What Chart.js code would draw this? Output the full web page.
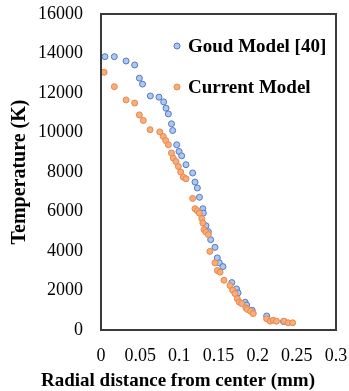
<!DOCTYPE html>
<html>
<head>
<meta charset="utf-8">
<script src="https://cdn.jsdelivr.net/npm/chart.js@4.4.1/dist/chart.umd.min.js"></script>
<style>
  body { margin: 0; background: #fff; }
  #caja { width: 349px; height: 391px; }
</style>
</head>
<body>
<div id="caja"><canvas id="scatter" width="349" height="391"></canvas></div>
<script>
const grafica = document.getElementById("scatter");

// Goud Model [40]
const goudX = [
  0.005, 0.017, 0.032, 0.043, 0.049, 0.053, 0.063, 0.074, 0.080, 0.083,
  0.086, 0.090, 0.0915, 0.0966, 0.0996, 0.103, 0.1085, 0.117, 0.120, 0.123,
  0.1257, 0.130, 0.1306, 0.134, 0.137, 0.140, 0.1455, 0.1485, 0.151, 0.1557,
  0.167, 0.173, 0.175, 0.184, 0.186, 0.193, 0.2115, 0.233,
];
const goudT = [
  13840, 13840, 13620, 13420, 12750, 12450, 11850, 11790, 11550, 11230,
  10940, 10440, 10100, 9380, 9040, 8820, 8370, 7950, 7490, 7190,
  6720, 6140, 5920, 5280, 4980, 4575, 4185, 3650, 3400, 3210,
  2400, 2080, 1880, 1405, 1260, 1000, 710, 430,
];

// Current Model
const currentX = [
  0.004, 0.017, 0.032, 0.043, 0.049, 0.054, 0.0626, 0.075, 0.0795, 0.0826,
  0.086, 0.090, 0.0923, 0.0957, 0.0987, 0.1017, 0.105, 0.1085, 0.117, 0.120,
  0.123, 0.1255, 0.1286, 0.130, 0.1315, 0.134, 0.137, 0.139, 0.1455, 0.1485,
  0.152, 0.157, 0.1647, 0.168, 0.171, 0.174, 0.1766, 0.1796, 0.185, 0.187,
  0.191, 0.1944, 0.2115, 0.216, 0.220, 0.224, 0.2336, 0.239, 0.2447,
];
const currentT = [
  13050, 12320, 11650, 11490, 10890, 10610, 10140, 10030, 9800, 9590,
  9380, 8960, 8700, 8530, 8280, 8000, 7740, 7660, 6660, 6140,
  6040, 5920, 5640, 5420, 5080, 4960, 4830, 3980, 3400, 3010,
  2930, 2520, 2250, 2010, 1845, 1580, 1410, 1340, 1120, 1040,
  950, 830, 565, 445, 495, 445, 445, 365, 365,
];

// Etiquetas de los ejes
const xTickLabels = ["0", "0.05", "0.1", "0.15", "0.2", "0.25", "0.3"];
const yTickLabels = ["0", "2000", "4000", "6000", "8000", "10000", "12000", "14000", "16000"];
const seriesNames = ["Goud Model [40]", "Current Model"];
const xTitle = "Radial distance from center (mm)";
const yTitle = "Temperature (K)";

const toPoints = (xs, ys) => xs.map((x, i) => ({ x: x, y: ys[i] }));

const dataScatter = {
  datasets: [
    {
      label: seriesNames[0],
      data: toPoints(goudX, goudT),
      pointRadius: 3,
      pointBorderWidth: 1,
      backgroundColor: "#AFC6EE",
      borderColor: "#4E7ACB",
      order: 1,
    },
    {
      label: seriesNames[1],
      data: toPoints(currentX, currentT),
      pointRadius: 3,
      pointBorderWidth: 1,
      backgroundColor: "#F5AE7E",
      borderColor: "#EB8646",
      order: 0,
    },
  ],
};

// Marco del area, titulo del eje X (sin maxWidth) y leyenda dentro
const marcoLeyenda = {
  id: "marcoLeyenda",
  afterDraw(chart) {
    const { ctx, chartArea } = chart;
    ctx.save();
    ctx.strokeStyle = "#3a3a3a";
    ctx.lineWidth = 2;
    ctx.strokeRect(chartArea.left, chartArea.top, chartArea.width, chartArea.height);

    ctx.font = "bold 19px 'Liberation Serif'";
    ctx.textBaseline = "middle";
    ctx.fillStyle = "#000";
    ctx.textAlign = "center";
    ctx.fillText(xTitle, 178, chartArea.bottom + 51);

    ctx.textAlign = "left";
    [0, 1].forEach((i) => {
      const ds = chart.data.datasets[i];
      const x = chartArea.left + 76;
      const y = chartArea.top + 32 + i * 41;
      ctx.beginPath();
      ctx.arc(x, y, 3, 0, Math.PI * 2);
      ctx.fillStyle = ds.backgroundColor;
      ctx.fill();
      ctx.lineWidth = 1;
      ctx.strokeStyle = ds.borderColor;
      ctx.stroke();
      ctx.fillStyle = "#000";
      ctx.fillText(ds.label, x + 11, y + 1);
    });
    ctx.restore();
  },
};

const configScatter = {
  type: "scatter",
  data: dataScatter,
  options: {
    responsive: false,
    animation: false,
    layout: { padding: { top: 14, right: 13, left: 0, bottom: 0 } },
    scales: {
      x: {
        type: "linear",
        min: 0,
        max: 0.3,
        grid: { display: false, drawTicks: false },
        border: { display: false },
        ticks: {
          stepSize: 0.05,
          padding: 15,
          color: "#000",
          font: { family: "'Liberation Serif'", size: 18 },
          callback: (v, i) => xTickLabels[i],
        },
        afterFit: (scale) => {
          scale.height = 61;
          scale.paddingLeft = 0;
          scale.paddingRight = 0;
        },
      },
      y: {
        min: 0,
        max: 16000,
        grid: { display: false, drawTicks: false },
        border: { display: false },
        ticks: {
          stepSize: 2000,
          padding: 18,
          color: "#000",
          font: { family: "'Liberation Serif'", size: 18 },
          callback: (v, i) => yTickLabels[i],
        },
        title: {
          display: true,
          text: yTitle,
          color: "#000",
          font: { family: "'Liberation Serif'", size: 20, weight: "bold", lineHeight: 1 },
          padding: { top: 10, bottom: 0 },
        },
        afterFit: (scale) => {
          scale.width = 101;
          scale.paddingTop = 0;
          scale.paddingBottom = 0;
        },
      },
    },
    plugins: {
      legend: { display: false },
      tooltip: { enabled: false },
    },
  },
  plugins: [marcoLeyenda],
};

new Chart(grafica, configScatter);
</script>
</body>
</html>
